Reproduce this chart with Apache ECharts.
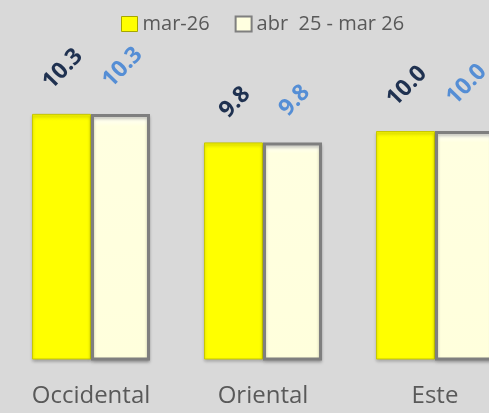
<!DOCTYPE html>
<html><head><meta charset="utf-8">
<script src="https://cdn.jsdelivr.net/npm/echarts@6/dist/echarts.min.js"></script>
<style>html,body{margin:0;padding:0;background:#d9d9d9;overflow:hidden;width:489px;height:413px;}#c{width:526px;height:413px;}</style>
</head><body><div id="c"></div>
<script>
const categories = ["Occidental", "Oriental", "Este"];
const seriesNames = ["mar-26", "abr  25 - mar 26"];
const valuesMonth = [10.3, 9.8, 10.0];
const valuesYear = [10.3, 9.8, 10.0];

const chart = echarts.init(document.getElementById('c'));
const font = "'Open Sans', sans-serif";
const labelSize = 23;
const labelRot = 46;
const ctx = document.createElement('canvas').getContext('2d');
ctx.font = "bold " + labelSize + "px 'Open Sans'";
const rad = labelRot * Math.PI / 180;
// distance so that the rotated label's lower edge sits a fixed gap above the bar
function withLabels(values, gap, dx) {
  return values.map(v => {
    const t = v.toFixed(1);
    const w = ctx.measureText(t).width;
    const half = (w * Math.sin(rad) + 0.72 * labelSize * Math.cos(rad)) / 2;
    return {value: v, label: {distance: gap + half, offset: [dx, 0]}};
  });
}
const lbl = (color) => ({
  show: true, position: 'top', rotate: labelRot,
  align: 'center', verticalAlign: 'middle',
  formatter: p => p.value.toFixed(1),
  color: color, fontFamily: font, fontWeight: 'bold', fontSize: labelSize
});
chart.setOption({
  backgroundColor: '#d9d9d9',
  animation: false,
  legend: {
    top: 9, left: 116, itemWidth: 16, itemHeight: 15, itemGap: 25,
    textStyle: {fontFamily: font, fontSize: 20, color: '#595959'},
    data: [
      {name: seriesNames[0], icon: 'rect', itemStyle: {color: '#ffff00', borderColor: '#a6a600', borderWidth: 1}},
      {name: seriesNames[1], icon: 'rect', itemStyle: {color: '#ffffe0', borderColor: '#7f7f7f', borderWidth: 2}}
    ]
  },
  grid: {left: 5, right: 5, top: 17, bottom: 54},
  xAxis: {
    type: 'category', data: categories,
    axisLine: {show: false}, axisTick: {show: false},
    axisLabel: {fontFamily: font, fontSize: 24, color: '#595959', margin: 25}
  },
  yAxis: {type: 'value', min: 6, max: 12, show: false, splitLine: {show: false}},
  series: [
    {name: seriesNames[0], type: 'bar', data: withLabels(valuesMonth, 21, 2), barWidth: 59, barGap: '0%',
     itemStyle: {color: {type: 'linear', x: 0, y: 0, x2: 0, y2: 1, colorStops: [
        {offset: 0, color: '#f4f400'}, {offset: 0.03, color: '#ffff00'}, {offset: 1, color: '#ffff00'}]},
       borderColor: '#c8c800', borderWidth: 1,
       shadowColor: 'rgba(0,0,0,0.25)', shadowBlur: 3, shadowOffsetY: 2},
     label: lbl('#1f3150')},
    {name: seriesNames[1], type: 'bar', data: withLabels(valuesYear, 22, 3), barWidth: 59,
     itemStyle: {color: {type: 'linear', x: 0, y: 0, x2: 0, y2: 1, colorStops: [
        {offset: 0, color: '#ffffff'}, {offset: 0.05, color: '#ffffe0'}, {offset: 1, color: '#ffffdc'}]},
       borderColor: '#7f7f7f', borderWidth: 3,
       shadowColor: 'rgba(0,0,0,0.25)', shadowBlur: 3, shadowOffsetY: 2},
     label: lbl('#558ed5')}
  ]
});
</script></body></html>
